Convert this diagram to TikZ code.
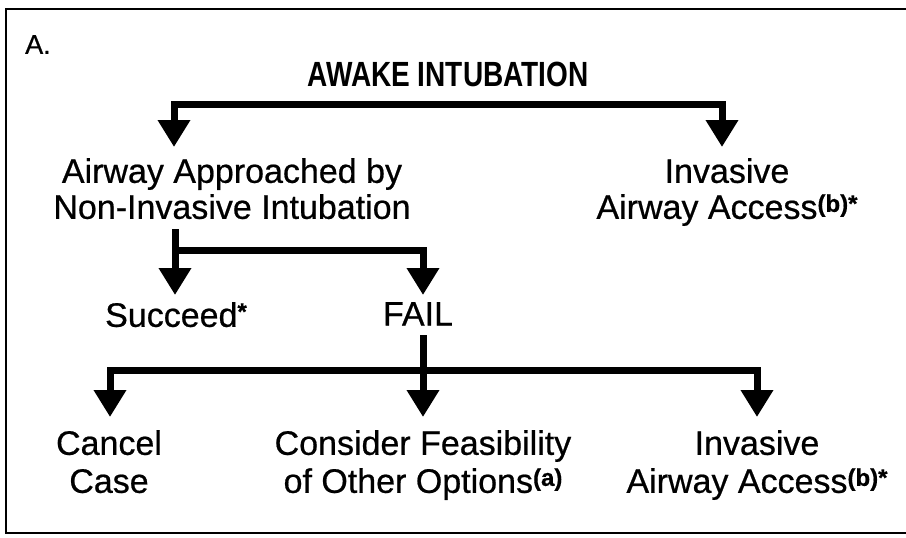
\documentclass[tikz,border=0pt]{standalone}
\usepackage{fontspec}
\setmainfont{Liberation Sans}[FakeBold=0.6]
\newfontfamily\narrowfont{Liberation Sans}[FakeStretch=0.8]
\usetikzlibrary{arrows.meta,calc}
\newcommand{\fnmark}[1]{\raisebox{7pt}{\fontsize{24}{24}\selectfont\bfseries #1}}

\begin{document}
\begin{tikzpicture}[x=1pt,y=-1pt,
		txt/.style={inner sep=0pt, anchor=north, align=center, font=\fontsize{34}{36}\selectfont},
		lowtxt/.style={txt, font=\fontsize{34}{38}\selectfont},
		bar/.style={line width=7pt, line cap=rect},
		flow/.style={bar, -{Triangle[width=31pt,length=27pt]}, shorten >=11pt}]
				\useasboundingbox (0,0) rectangle (906,538);
				% Frame
				\draw[line width=2.5pt] (6,9) rectangle (909,533);
				
				% Panel letter and title
				\node[txt, anchor=north west, font=\fontsize{27}{32}\selectfont] (panel) at (25,35) {A.};
				\node[txt, font=\narrowfont\bfseries\fontsize{35}{40}\selectfont] (title) at (448,62) {AWAKE INTUBATION};
				
				% First choice
				\node[txt] (airway) at (232,158) {Airway Approached by\\Non-Invasive Intubation};
				\node[txt] (inv1) at (727,158) {Invasive\\Airway Access\fnmark{(b)*}};
				
				% Outcome
				\node[txt] (succeed) at (176,302) {Succeed\fnmark{*}};
				\node[txt] (fail) at (418,302) {FAIL};
				
				% After failure
				\node[lowtxt] (cancel) at (109,430) {Cancel\\Case};
				\node[lowtxt] (consider) at (423,430) {Consider Feasibility\\of Other Options\fnmark{(a)}};
				\node[lowtxt] (inv2) at (757,430) {Invasive\\Airway Access\fnmark{(b)*}};
				
				% Branch points
				\coordinate (tl) at (174,104);
				\coordinate (tr) at (722,104);
				\coordinate (ml) at (175,250);
				\coordinate (mr) at (423,250);
				\coordinate (bl) at (110,370);
				\coordinate (bm) at (423,370);
				\coordinate (br) at (757,370);
				
				% Top split
				\draw[bar] (tl) -- (tr);
				\draw[flow] (tl) -- (tl |- airway.north);
				\draw[flow] (tr) -- (tr |- inv1.north);
				
				% Succeed or fail
				\draw[bar, shorten <=13pt] (airway.south -| ml) -- (ml);
				\draw[bar] (ml) -- (mr);
				\draw[flow, shorten >=7pt] (ml) -- (ml |- succeed.north);
				\draw[flow, shorten >=7pt] (mr) -- (mr |- fail.north);
				
				% Three options after failure
				\draw[bar, shorten <=13pt] (fail.south -| bm) -- (bm);
				\draw[bar] (bl) -- (br);
				\draw[flow, shorten >=13pt] (bl) -- (bl |- cancel.north);
				\draw[flow, shorten >=13pt] (bm) -- (bm |- consider.north);
				\draw[flow, shorten >=13pt] (br) -- (br |- inv2.north);
			\end{tikzpicture}
\end{document}
